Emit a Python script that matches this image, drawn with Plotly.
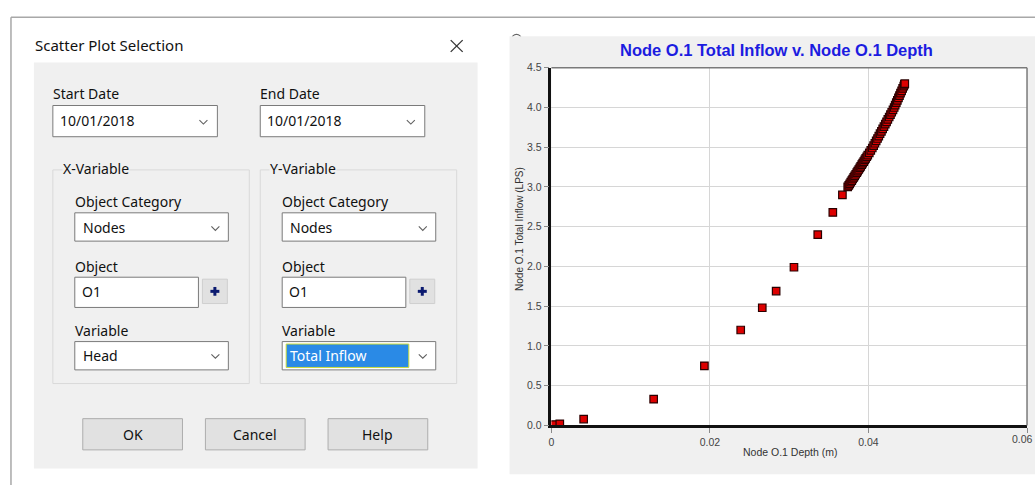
import plotly.graph_objects as go

# ---------------- data ----------------
depth_m = [0.0003, 0.00106, 0.00407, 0.01290, 0.01930, 0.02388, 0.02660, 0.02835,
           0.03060, 0.03360, 0.03550, 0.03671, 0.03738,
           0.03751, 0.03763, 0.03776, 0.03789, 0.03801, 0.03814, 0.03826, 0.03839,
           0.03852, 0.03864, 0.03877, 0.03890, 0.03902, 0.03915, 0.03927, 0.03940,
           0.03953, 0.03965, 0.03978, 0.03991, 0.04010, 0.04029, 0.04048, 0.04065,
           0.04081, 0.04097, 0.04114, 0.04130, 0.04146, 0.04163, 0.04179, 0.04195,
           0.04212, 0.04228, 0.04244, 0.04261, 0.04277, 0.04293, 0.04309, 0.04324,
           0.04337, 0.04351, 0.04364, 0.04378, 0.04391, 0.04404, 0.04418, 0.04431,
           0.04445, 0.04453, 0.04458]
inflow_lps = [0.01, 0.02, 0.08, 0.33, 0.75, 1.20, 1.48, 1.69,
              1.99, 2.40, 2.68, 2.90, 3.00,
              3.02, 3.04, 3.06, 3.08, 3.10, 3.12, 3.14, 3.16,
              3.18, 3.20, 3.22, 3.24, 3.26, 3.28, 3.30, 3.32,
              3.34, 3.36, 3.38, 3.40, 3.43, 3.46, 3.49, 3.52,
              3.55, 3.58, 3.61, 3.64, 3.67, 3.70, 3.73, 3.76,
              3.79, 3.82, 3.85, 3.88, 3.91, 3.94, 3.97, 4.00,
              4.03, 4.06, 4.09, 4.12, 4.15, 4.18, 4.21, 4.24,
              4.27, 4.29, 4.30]

x_tick_vals = [0, 0.02, 0.04, 0.06]
x_tick_text = ["0", "0.02", "0.04", "0.06"]
y_tick_vals = [0.0, 0.5, 1.0, 1.5, 2.0, 2.5, 3.0, 3.5, 4.0, 4.5]
y_tick_text = ["0.0", "0.5", "1.0", "1.5", "2.0", "2.5", "3.0", "3.5", "4.0", "4.5"]

chart_title = "Node O.1 Total Inflow v. Node O.1 Depth"
x_title = "Node O.1 Depth (m)"
y_title = "Node O.1 Total Inflow (LPS)"

dialog_title = "Scatter Plot Selection"
start_label, end_label = "Start Date", "End Date"
start_date, end_date = "10/01/2018", "10/01/2018"
group_labels = ["X-Variable", "Y-Variable"]
category_values = ["Nodes", "Nodes"]
object_values = ["O1", "O1"]
variable_values = ["Head", "Total Inflow"]
button_labels = ["OK", "Cancel", "Help"]

# ---------------- layout helpers ----------------
W, H = 1035, 491
PL, PR, PT, PB = 550, 1027, 63.3, 429.9


def X(px):
    return px / W


def Y(py):
    return 1 - py / H


shapes = []
annotations = []
UI_FONT = "Noto Sans"
CH_FONT = "Liberation Sans"


def rect(x0, y0, x1, y1, fill=None, line=None, lw=1, layer="below"):
    shapes.append(dict(type="rect", xref="paper", yref="paper",
                       x0=X(x0), x1=X(x1), y0=Y(y1), y1=Y(y0),
                       fillcolor=fill if fill else "rgba(0,0,0,0)",
                       line=dict(color=line if line else "rgba(0,0,0,0)", width=lw if line else 0),
                       layer=layer))


def seg(x0, y0, x1, y1, color, w=1, layer="below"):
    shapes.append(dict(type="line", xref="paper", yref="paper",
                       x0=X(x0), x1=X(x1), y0=Y(y0), y1=Y(y1),
                       line=dict(color=color, width=w), layer=layer))


def path(pts, color, w=1):
    d = "M " + " L ".join(f"{X(a)},{Y(b)}" for a, b in pts)
    shapes.append(dict(type="path", xref="paper", yref="paper", path=d,
                       line=dict(color=color, width=w), layer="above"))


def text(x, y, s, size=14, color="#111111", anchor="left", family=UI_FONT,
         bg=None, angle=0, bold=False):
    if bold:
        s = "<b>" + s + "</b>"
    a = dict(xref="paper", yref="paper", x=X(x), y=Y(y), text=s, showarrow=False,
             xanchor=anchor, yanchor="middle", font=dict(family=family, size=size, color=color),
             textangle=angle, borderpad=0)
    if bg:
        a["bgcolor"] = bg
    annotations.append(a)


def chevron(cx, cy, color="#606060"):
    path([(cx - 4, cy - 2), (cx, cy + 2), (cx + 4, cy - 2)], color, 1.1)


# ---------------- dialog ----------------
seg(8, 11.5, W, 11.5, "#a8a8a8", 1.5)
seg(8, 11.5, 8, H, "#a8a8a8", 1.5)
text(31, 40, dialog_title, 15)
seg(449, 35, 461, 47, "#333333", 1.3)
seg(449, 47, 461, 35, "#333333", 1.3)
rect(31, 58, 476, 474, fill="#f0f0f0")

# dates
for lx, lab, val in [(50, start_label, start_date), (258, end_label, end_date)]:
    text(lx - 1, 90, lab, 14)
    rect(lx, 102, lx + 165, 134, fill="#ffffff", line="#7a7a7a", lw=1)
    text(lx + 6, 117.5, val, 14)
    chevron(lx + 151, 119)

# groups
for gi, gx in enumerate([50, 258]):
    rect(gx, 168, gx + 197, 387, line="#d9d9d9", lw=1)
    text(gx + 9, 167, group_labels[gi], 14, bg="#f0f0f0")
    ix = gx + 22
    # Object Category
    text(ix - 1, 200, "Object Category", 14)
    rect(ix, 212, ix + 154, 241, fill="#ffffff", line="#7a7a7a", lw=1)
    text(ix + 7, 227, category_values[gi], 14)
    chevron(ix + 141, 228)
    # Object
    text(ix - 1, 267, "Object", 14)
    rect(ix, 278, ix + 124, 309, fill="#ffffff", line="#7a7a7a", lw=1)
    text(ix + 6, 293, object_values[gi], 14)
    rect(ix + 128, 280, ix + 153, 305, fill="#e1e1e1", line="#cfcfcf", lw=1)
    seg(ix + 136, 292.5, ix + 145, 292.5, "#0b1a70", 3, layer="above")
    seg(ix + 140.5, 288, ix + 140.5, 297, "#0b1a70", 3, layer="above")
    # Variable
    text(ix - 1, 333, "Variable", 14)
    rect(ix, 344, ix + 154, 373, fill="#ffffff", line="#7a7a7a", lw=1)
    if gi == 1:
        rect(ix + 4, 346.5, ix + 127, 370.5, fill="#2a8ae6", line="#cddc39", lw=1)
        text(ix + 7, 358.5, variable_values[gi], 14, color="#ffffff")
    else:
        text(ix + 7, 358.5, variable_values[gi], 14)
    chevron(ix + 141, 359)

# buttons
for bx, lab in zip([80, 203, 326], button_labels):
    rect(bx, 423, bx + 100, 455, fill="#e1e1e1", line="#adadad", lw=1)
    text(bx + 50, 439.5, lab, 14, anchor="center")

# ---------------- chart panel ----------------
shapes.append(dict(type="circle", xref="paper", yref="paper",
                   x0=X(510), x1=X(520), y0=Y(40), y1=Y(29),
                   line=dict(color="#666666", width=1.2), layer="below"))
rect(508, 31, W, 480, fill="#f0f0f0")
rect(PL, PT, PR, PB, fill="#ffffff")
seg(PL, PT, PR, PT, "#7a7a7a", 1.5, layer="above")
seg(PR, PT, PR, PB, "#7a7a7a", 1.5, layer="above")

text(776, 45, chart_title, 16.5, color="#1c1ce0", anchor="center", family=CH_FONT, bold=True)
text(790, 457, x_title, 10.5, color="#333333", anchor="center", family=CH_FONT)
text(518, 228, y_title, 10, color="#333333", anchor="center", family=CH_FONT, angle=-90)

# last x tick label sits against the page edge: right-aligned so it stays whole
text(1034, 443.5, x_tick_text[-1], 10.5, color="#444444", anchor="right", family=CH_FONT)

fig = go.Figure()
fig.add_trace(go.Scatter(
    x=depth_m, y=inflow_lps, mode="markers",
    marker=dict(symbol="square", size=7.5, color="#dd0000",
                line=dict(color="#2a0000", width=1.2)),
    hoverinfo="x+y", showlegend=False))

axis_common = dict(showgrid=True, gridcolor="#d6d6d6", gridwidth=1, zeroline=False,
                   showline=True, linecolor="#111111", linewidth=2.5,
                   ticks="outside", ticklen=5, tickcolor="#8a8a8a", tickwidth=1,
                   tickfont=dict(family=CH_FONT, size=10.5, color="#444444"),
                   fixedrange=True)

fig.update_layout(
    autosize=True,
    margin=dict(l=0, r=0, t=0, b=0, pad=0),
    paper_bgcolor="#ffffff", plot_bgcolor="#ffffff",
    xaxis=dict(range=[0, 0.06], domain=[X(PL), X(PR)], tickmode="array",
               tickvals=x_tick_vals, ticktext=x_tick_text[:-1] + [""], **axis_common),
    yaxis=dict(range=[0, 4.5], domain=[Y(PB), Y(PT)], tickmode="array",
               tickvals=y_tick_vals, ticktext=y_tick_text, **axis_common),
    shapes=shapes, annotations=annotations,
)

post = """
document.documentElement.style.margin='0';
document.documentElement.style.overflow='hidden';
document.body.style.margin='0';
document.body.style.overflow='hidden';
var gd = document.getElementById('{plot_id}');
gd.style.position='fixed'; gd.style.left='0px'; gd.style.top='0px';
gd.style.width='100vw'; gd.style.height='100vh';
Plotly.Plots.resize(gd);
"""

fig.write_html(
    "out.html",
    config={"displayModeBar": False, "responsive": True},
    default_width="100vw",
    default_height="100vh",
    post_script=post,
)
